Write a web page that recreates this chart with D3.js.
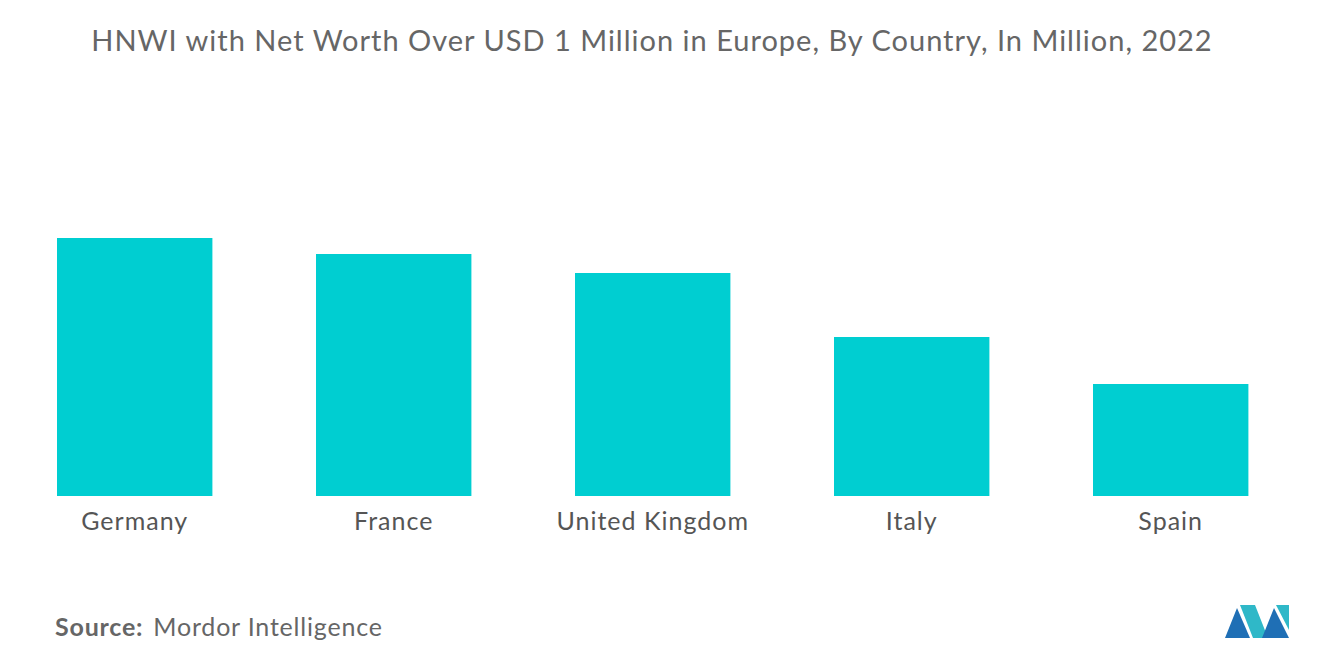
<!DOCTYPE html>
<html><head><meta charset="utf-8">
<script src="https://cdn.jsdelivr.net/npm/d3@7/dist/d3.min.js"></script>
<style>body{margin:0;background:#fff}</style></head>
<body><svg id="c" width="1320" height="665"></svg>
<script>
const categories = ["Germany","France","United Kingdom","Italy","Spain"];
const values = [2.58, 2.42, 2.23, 1.59, 1.12];
const svg = d3.select("#c");
const font = "Lato, sans-serif";
const x = d3.scaleBand().domain(categories).range([5.2,1300.2]).paddingInner(0.4).paddingOuter(0.2);
const y = d3.scaleLinear().domain([0, d3.max(values)]).range([496,238]);
svg.append("text").attr("x",652).attr("y",51).attr("text-anchor","middle")
  .attr("font-family",font).attr("font-size",29).attr("letter-spacing",1).attr("fill","#666")
  .text("HNWI with Net Worth Over USD 1 Million in Europe, By Country, In Million, 2022");
svg.selectAll("rect.bar").data(values).join("rect").attr("class","bar")
  .attr("x",(d,i)=>x(categories[i])).attr("width",x.bandwidth())
  .attr("y",d=>y(d)).attr("height",d=>y(0)-y(d)).attr("fill","#00ced1");
const ax = svg.append("g").attr("transform","translate(0,496)").call(d3.axisBottom(x).tickSize(0).tickPadding(16));
ax.select(".domain").remove();
ax.selectAll("text").attr("font-family",font).attr("font-size",25).attr("letter-spacing",1).attr("fill","#555");
const s = svg.append("text").attr("x",55).attr("y",636).attr("font-family",font).attr("font-size",25).attr("letter-spacing",0.8).attr("fill","#666");
s.append("tspan").attr("font-weight","bold").text("Source:");
s.append("tspan").attr("dx",10).text("Mordor Intelligence");
const g = svg.append("g");
g.append("polygon").attr("points","1225,638 1237,608 1250,638").attr("fill","#1f6fb5");
g.append("polygon").attr("points","1240,605 1255,605 1268,638 1253,638").attr("fill","#2fb8c8");
g.append("polygon").attr("points","1262,638 1274,608 1289,638").attr("fill","#1f6fb5");
g.append("polygon").attr("points","1276,605 1289,605 1289,630").attr("fill","#2fb8c8");
</script></body></html>
